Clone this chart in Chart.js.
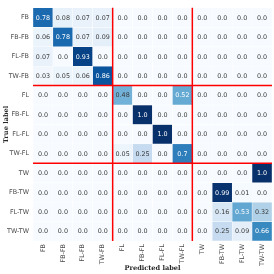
<!DOCTYPE html>
<html>
<head>
<meta charset="utf-8">
<script src="https://cdn.jsdelivr.net/npm/chart.js@4"></script>
<style>
  html, body { margin: 0; padding: 0; background: #fff; }
  #wrap { width: 274px; height: 274px; position: relative; }
</style>
</head>
<body>
<div id="wrap"><canvas id="cm"></canvas></div>
<script>
// confusion matrix - rows are true labels, columns are predicted labels
const trueLabels = ['FB', 'FB-FB', 'FL-FB', 'TW-FB', 'FL', 'FB-FL', 'FL-FL', 'TW-FL', 'TW', 'FB-TW', 'FL-TW', 'TW-TW'];
const predLabels = ['FB', 'FB-FB', 'FL-FB', 'TW-FB', 'FL', 'FB-FL', 'FL-FL', 'TW-FL', 'TW', 'FB-TW', 'FL-TW', 'TW-TW'];

const rowFB   = [0.78, 0.08, 0.07, 0.07, 0, 0, 0, 0, 0, 0, 0, 0];
const rowFBFB = [0.06, 0.78, 0.07, 0.09, 0, 0, 0, 0, 0, 0, 0, 0];
const rowFLFB = [0.07, 0, 0.93, 0, 0, 0, 0, 0, 0, 0, 0, 0];
const rowTWFB = [0.03, 0.05, 0.06, 0.86, 0, 0, 0, 0, 0, 0, 0, 0];
const rowFL   = [0, 0, 0, 0, 0.48, 0, 0, 0.52, 0, 0, 0, 0];
const rowFBFL = [0, 0, 0, 0, 0, 1.0, 0, 0, 0, 0, 0, 0];
const rowFLFL = [0, 0, 0, 0, 0, 0, 1.0, 0, 0, 0, 0, 0];
const rowTWFL = [0, 0, 0, 0, 0.05, 0.25, 0, 0.7, 0, 0, 0, 0];
const rowTW   = [0, 0, 0, 0, 0, 0, 0, 0, 0, 0, 0, 1.0];
const rowFBTW = [0, 0, 0, 0, 0, 0, 0, 0, 0, 0.99, 0.01, 0];
const rowFLTW = [0, 0, 0, 0, 0, 0, 0, 0, 0, 0.16, 0.53, 0.32];
const rowTWTW = [0, 0, 0, 0, 0, 0, 0, 0, 0, 0.25, 0.09, 0.66];

const matrix = [rowFB, rowFBFB, rowFLFB, rowTWFB, rowFL, rowFBFL, rowFLFL, rowTWFL, rowTW, rowFBTW, rowFLTW, rowTWTW];
const groupBreaks = [4, 8]; // red separators between FB / FL / TW groups

// matplotlib "Blues"
const blues = ['#f7fbff', '#deebf7', '#c6dbef', '#9ecae1', '#6baed6', '#4292c6', '#2171b5', '#08519c', '#08306b'];

function hexToRgb(h) {
  return [parseInt(h.slice(1, 3), 16), parseInt(h.slice(3, 5), 16), parseInt(h.slice(5, 7), 16)];
}

function bluesColor(v) {
  const t = Math.max(0, Math.min(1, v)) * (blues.length - 1);
  const i = Math.min(Math.floor(t), blues.length - 2);
  const f = t - i;
  const a = hexToRgb(blues[i]);
  const b = hexToRgb(blues[i + 1]);
  const c = a.map((x, k) => Math.round(x + (b[k] - x) * f));
  return `rgb(${c[0]}, ${c[1]}, ${c[2]})`;
}

function fmt(v) {
  return Number.isInteger(v) ? v.toFixed(1) : String(v);
}

// one floating-bar dataset per true-label row
const datasets = matrix.map((row, r) => ({
  label: trueLabels[r],
  data: row.map(() => [r, r + 1]),
  values: row,
  backgroundColor: row.map(v => bluesColor(v)),
  borderColor: '#ffffff',
  borderWidth: 0.5,
  borderSkipped: false,
  categoryPercentage: 1,
  barPercentage: 1,
  grouped: false
}));

const cellText = {
  id: 'cellText',
  afterDatasetsDraw(chart) {
    const ctx = chart.ctx;
    ctx.save();
    ctx.font = '6.4px "DejaVu Sans"';
    ctx.textAlign = 'center';
    ctx.textBaseline = 'middle';
    chart.data.datasets.forEach((ds, i) => {
      chart.getDatasetMeta(i).data.forEach((bar, j) => {
        const v = ds.values[j];
        const p = bar.getCenterPoint();
        ctx.fillStyle = v > 0.5 ? '#ffffff' : '#3a3a3a';
        ctx.fillText(fmt(v), p.x, p.y + 0.5);
      });
    });
    ctx.restore();
  }
};

const separators = {
  id: 'separators',
  afterDatasetsDraw(chart) {
    const { ctx, chartArea: a, scales } = chart;
    ctx.save();
    ctx.strokeStyle = '#ff0000';
    ctx.lineWidth = 1.5;
    groupBreaks.forEach(k => {
      const x = (scales.x.getPixelForValue(k - 1) + scales.x.getPixelForValue(k)) / 2;
      const y = scales.y.getPixelForValue(k);
      ctx.beginPath();
      ctx.moveTo(x, a.top);
      ctx.lineTo(x, a.bottom);
      ctx.moveTo(a.left, y);
      ctx.lineTo(a.right, y);
      ctx.stroke();
    });
    ctx.restore();
  }
};

const axisTitles = {
  id: 'axisTitles',
  afterDraw(chart) {
    const { ctx, chartArea: a } = chart;
    ctx.save();
    ctx.fillStyle = '#262626';
    ctx.font = 'bold 6.6px "DejaVu Serif"';
    ctx.textAlign = 'center';
    ctx.textBaseline = 'middle';
    ctx.fillText('Predicted label', (a.left + a.right) / 2, 268);
    ctx.translate(6.5, (a.top + a.bottom) / 2);
    ctx.rotate(-Math.PI / 2);
    ctx.fillText('True label', 0, 0);
    ctx.restore();
  }
};

new Chart(document.getElementById('cm'), {
  type: 'bar',
  data: { labels: predLabels, datasets },
  options: {
    responsive: true,
    maintainAspectRatio: false,
    animation: false,
    layout: { padding: { top: 1, right: 2, left: 0, bottom: 0 } },
    plugins: { legend: { display: false }, tooltip: { enabled: false } },
    scales: {
      x: {
        type: 'category',
        offset: true,
        grid: { display: false, drawTicks: false },
        border: { display: false },
        ticks: {
          minRotation: 90,
          maxRotation: 90,
          autoSkip: false,
          padding: 3,
          color: '#4a4a4a',
          font: { family: 'DejaVu Sans', size: 6.4 }
        },
        afterFit(scale) { scale.height = 33; }
      },
      y: {
        type: 'linear',
        min: 0,
        max: 12,
        reverse: true,
        grid: { display: false, drawTicks: false },
        border: { display: false },
        afterBuildTicks(scale) {
          scale.ticks = trueLabels.map((_, i) => ({ value: i + 0.5 }));
        },
        ticks: {
          autoSkip: false,
          padding: 4,
          color: '#4a4a4a',
          font: { family: 'DejaVu Sans', size: 6.4 },
          callback: v => trueLabels[Math.round(v - 0.5)]
        },
        afterFit(scale) { scale.width = 33; }
      }
    }
  },
  plugins: [cellText, separators, axisTitles]
});
</script>
</body>
</html>
